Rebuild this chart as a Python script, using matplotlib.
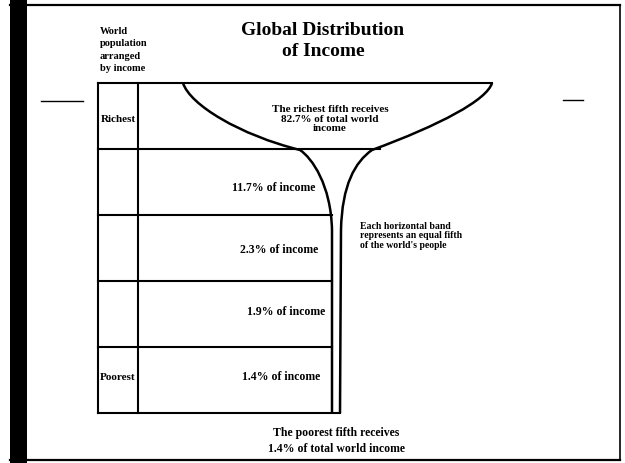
import numpy as np
import matplotlib
matplotlib.use('Agg')
from matplotlib import pyplot as plt
from matplotlib.path import Path
from matplotlib.patches import PathPatch, Rectangle

# Data: share of world income received by each fifth (richest first)
quintiles = ['Richest', '', '', '', 'Poorest']
shares = [82.7, 11.7, 2.3, 1.9, 1.4]
title = 'Global Distribution\nof Income'
side_note = 'World\npopulation\narranged\nby income'
band_note = "Each horizontal band\nrepresents an equal fifth\nof the world's people"
top_note = 'The richest fifth receives\n{}% of total world\nincome'.format(shares[0])
bottom_note = 'The poorest fifth receives\n{}% of total world income'.format(shares[-1])

# Layout in pixel space of the 625x463 page
W, H = 625, 463
table_left, col_right = 98, 138
table_top, row_h = 83, 66
stem_left, stem_right = 332, 340
rim_right = 492
label_right = [None, 315, 318, 325, 320]
label_dy = [4, 6, 2, -2, -3]

serif = ['Liberation Serif', 'DejaVu Serif']
fig = plt.figure(figsize=(6.25, 4.63), dpi=100)
ax = fig.add_axes([0, 0, 1, 1])
ax.set_xlim(0, W)
ax.set_ylim(H, 0)
ax.axis('off')

# Page frame (scanned look)
ax.add_patch(Rectangle((10, 0), 17, H, color='black', lw=0))
ax.plot([10, 620], [5, 5], color='black', lw=1.6)
ax.plot([10, 620], [460, 460], color='black', lw=1.6)
ax.plot([620, 620], [5, 460], color='black', lw=1.2)
ax.plot([41, 83], [101, 101], color='black', lw=1)
ax.plot([563, 583], [100, 100], color='black', lw=1)

lw = 1.5
n = len(shares)
edges = [table_top + i * row_h for i in range(n + 1)]
bottom = edges[-1]

# Table grid
ax.plot([table_left, rim_right], [table_top, table_top], color='black', lw=lw)
ax.plot([table_left, table_left], [table_top, bottom], color='black', lw=lw)
ax.plot([col_right, col_right], [table_top, bottom], color='black', lw=lw)
ax.plot([table_left, 380], [edges[1], edges[1]], color='black', lw=lw)
for y in edges[2:-1]:
    ax.plot([table_left, stem_left], [y, y], color='black', lw=lw)
ax.plot([table_left, stem_right], [bottom, bottom], color='black', lw=lw)

# Champagne glass outline
left_verts = [(183, 83), (190, 105), (240, 135), (300, 150),
              (312, 158), (331, 185), (stem_left, 230), (stem_left, bottom)]
right_verts = [(rim_right, 83), (487, 100), (440, 125), (372, 150),
               (355, 162), (342, 185), (stem_right + 1, 230), (stem_right, bottom)]
codes = [Path.MOVETO, Path.CURVE4, Path.CURVE4, Path.CURVE4,
         Path.CURVE4, Path.CURVE4, Path.CURVE4, Path.LINETO]
for verts in (left_verts, right_verts):
    ax.add_patch(PathPatch(Path(verts, codes), fill=False, edgecolor='black', lw=1.8))

# Text
ax.text(323, 41, title, ha='center', va='center', fontsize=14, fontweight='bold',
        family=serif, linespacing=1.3)
ax.text(100, 50, side_note, ha='left', va='center', fontsize=7.5, fontweight='bold',
        family=serif, linespacing=1.45)
ax.text(330, 119, top_note, ha='center', va='center', fontsize=8, fontweight='bold',
        family=serif, linespacing=1.05)
ax.text(360, 236, band_note, ha='left', va='center', fontsize=7, fontweight='bold',
        family=serif, linespacing=1.1)
ax.text(336, 441, bottom_note, ha='center', va='center', fontsize=8.5, fontweight='bold',
        family=serif, linespacing=1.35)

for i, (name, share) in enumerate(zip(quintiles, shares)):
    yc = (edges[i] + edges[i + 1]) / 2
    if name:
        ax.text((table_left + col_right) / 2, yc + label_dy[i], name, ha='center',
                va='center', fontsize=8, fontweight='bold', family=serif)
    if i > 0:
        ax.text(label_right[i], yc + label_dy[i], '{}% of income'.format(share),
                ha='right', va='center', fontsize=8.5, fontweight='bold', family=serif)

fig.savefig('out.png', dpi=100)
